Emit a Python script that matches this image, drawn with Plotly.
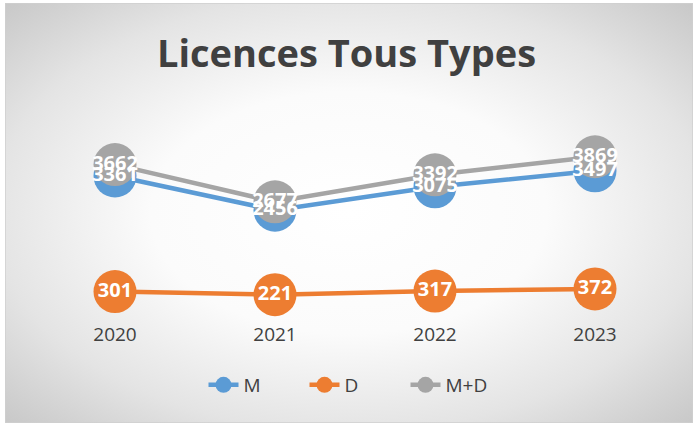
import plotly.graph_objects as go
import urllib.parse

years = ["2020", "2021", "2022", "2023"]
m_vals = [3361, 2456, 3075, 3497]
d_vals = [301, 221, 317, 372]
md_vals = [3662, 2677, 3392, 3869]

series = [
    ("M", m_vals, "#5b9bd5"),
    ("D", d_vals, "#ed7d31"),
    ("M+D", md_vals, "#a5a5a5"),
]

W, H = 693, 423
L, R, T, B = 35, 18, 114, 120
plot_w = W - L - R
plot_h = H - T - B

fig = go.Figure()
for name, vals, col in series:
    fig.add_trace(go.Scatter(
        x=years, y=vals, name=name, mode="lines+markers",
        line=dict(color=col, width=4.5),
        marker=dict(color=col, size=43, line=dict(width=0)),
        hoverinfo="skip", cliponaxis=False,
    ))
for name, vals, col in series:
    fig.add_trace(go.Scatter(
        x=years, y=vals, mode="text", text=[str(v) for v in vals],
        textposition="middle center",
        textfont=dict(color="white", size=20, family="Open Sans", weight="bold"),
        showlegend=False, hoverinfo="skip", cliponaxis=False,
    ))

svg = (
    '<svg xmlns="http://www.w3.org/2000/svg" width="688" height="420" viewBox="0 0 688 420" preserveAspectRatio="none">'
    '<defs><radialGradient id="g" cx="50%" cy="50%" r="72%">'
    '<stop offset="0" stop-color="#ffffff"/>'
    '<stop offset="0.4" stop-color="#fbfbfb"/>'
    '<stop offset="0.72" stop-color="#e4e4e4"/>'
    '<stop offset="1" stop-color="#c6c6c6"/>'
    '</radialGradient></defs>'
    '<rect x="0" y="0" width="688" height="420" fill="url(#g)" stroke="#cfcfcf" stroke-width="1.5"/>'
    '</svg>'
)
src = "data:image/svg+xml;charset=utf-8," + urllib.parse.quote(svg)

x0 = (5 - L) / plot_w
y_top = (H - B - 3) / plot_h
fig.add_layout_image(dict(
    source=src, xref="paper", yref="paper", x=x0, y=y_top,
    sizex=688 / plot_w, sizey=420 / plot_h, xanchor="left", yanchor="top",
    sizing="stretch", layer="below",
))

fig.update_layout(
    width=W, height=H,
    margin=dict(l=L, r=R, t=T, b=B),
    paper_bgcolor="white", plot_bgcolor="rgba(0,0,0,0)",
    title=dict(text="Licences Tous Types", x=0.5, xanchor="center",
               y=(H - 54) / H, yanchor="middle",
               font=dict(family="Open Sans", size=38, color="#404040", weight="bold")),
    xaxis=dict(type="category", range=[-0.5, 3.5], showgrid=False, zeroline=False,
               showline=False, ticks="", ticklabelstandoff=18,
               tickfont=dict(family="Open Sans", size=19, color="#404040")),
    yaxis=dict(range=[0, 5000], visible=False, showgrid=False, zeroline=False),
    legend=dict(orientation="h", x=0.5, xanchor="center", y=(H - B - 385) / plot_h,
                yanchor="middle", font=dict(family="Open Sans", size=19, color="#404040"),
                bgcolor="rgba(0,0,0,0)", entrywidth=56, tracegroupgap=0),
    showlegend=True,
)

fig.write_html("out.html", config={"displayModeBar": False},
               post_script="document.body.style.margin='0';")
